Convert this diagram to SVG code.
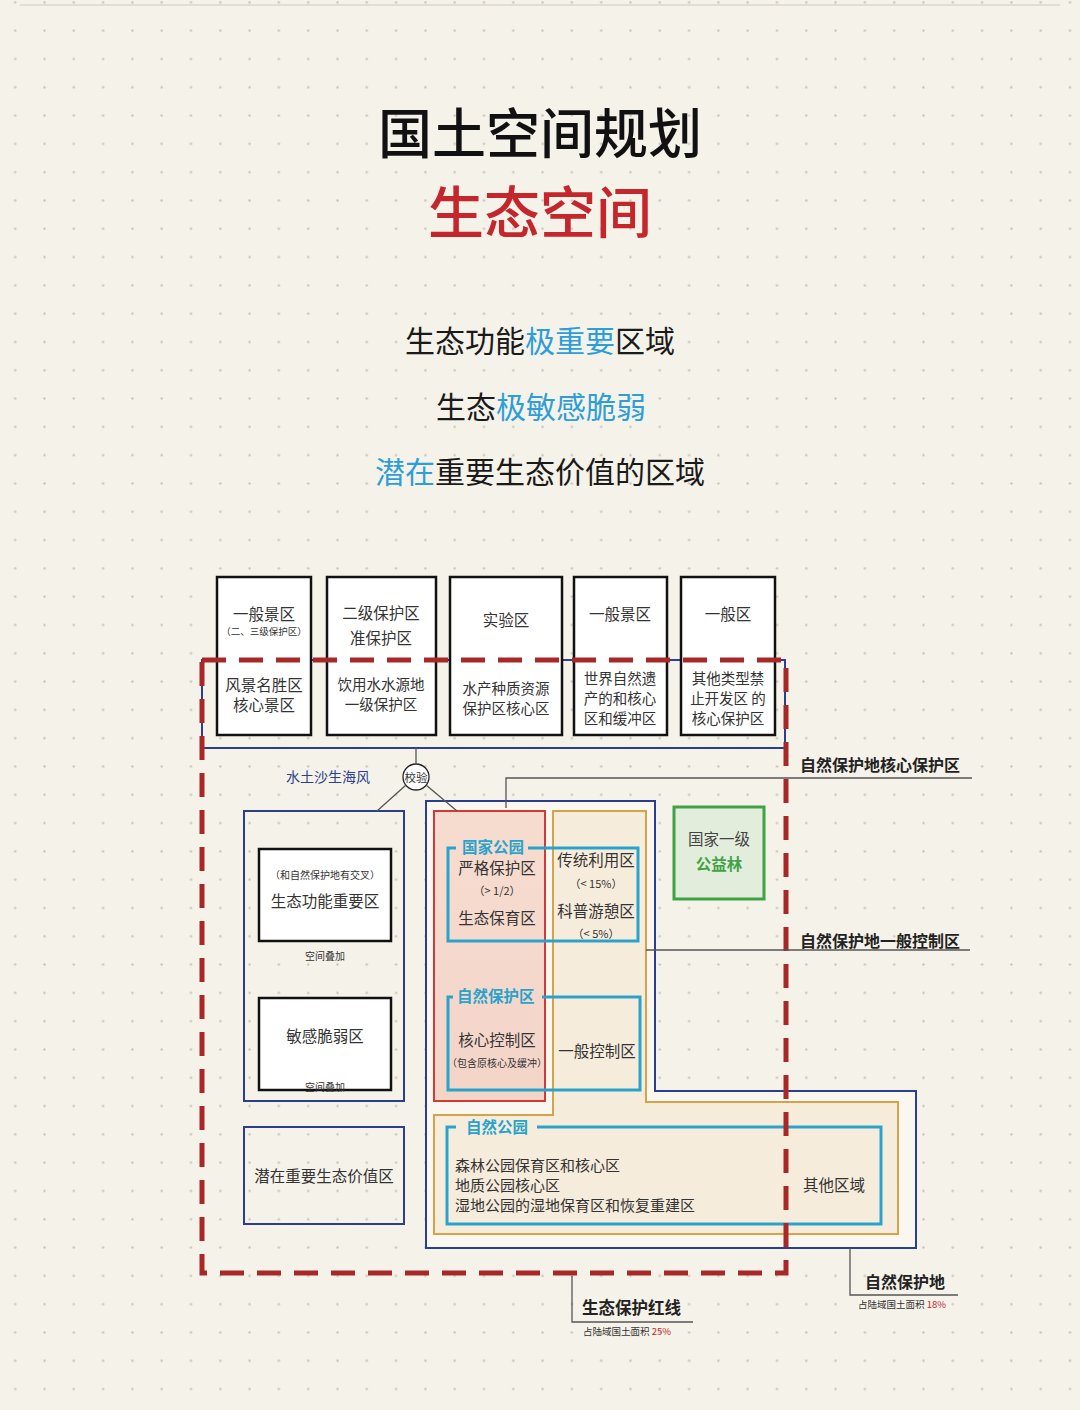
<svg xmlns="http://www.w3.org/2000/svg" width="1080" height="1410" viewBox="0 0 1080 1410">
<defs>
<pattern id="dots" x="13.7" y="0.9" width="29.3" height="28.3" patternUnits="userSpaceOnUse">
<circle cx="1.5" cy="1.5" r="1.2" fill="#c9c3b8"/>
</pattern>
<linearGradient id="pinkG" x1="0" y1="0" x2="0" y2="1">
<stop offset="0" stop-color="#f6dccf"/>
<stop offset="1" stop-color="#f3d5c8"/>
</linearGradient>
<style>
text{font-family:"Noto Sans CJK SC","Noto Sans",sans-serif;fill:#333;}
.t{font-size:15.5px;text-anchor:middle;}
.m{font-size:14.5px;text-anchor:middle;}
.s{font-size:10px;text-anchor:middle;}
.box{fill:#fff;stroke:#111;stroke-width:2.5;}
.db{fill:none;stroke:#2b3f8c;stroke-width:2;}
.cy{fill:none;stroke:#2aa3cc;stroke-width:3;}
.cl{font-size:15.5px;font-weight:700;fill:#2aa3cc;}
.lab{font-size:16px;font-weight:700;fill:#222;}
.ln{fill:none;stroke:#555;stroke-width:1.3;}
.hw{font-size:30px;text-anchor:middle;fill:#1a1a1a;}
.bl{fill:#2d9ed8;}
</style>
</defs>
<rect width="1080" height="1410" fill="#f5f2ea"/>
<rect width="1080" height="1410" fill="url(#dots)"/>
<line x1="20" y1="5" x2="1060" y2="5" stroke="#cfcac0" stroke-width="1"/>

<g id="title">
<text x="540" y="154" style="font-size:54px;font-weight:500;text-anchor:middle;fill:#111;">国土空间规划</text>
<text x="540" y="233" style="font-size:56px;font-weight:500;text-anchor:middle;fill:#c4262b;">生态空间</text>
<text x="540" y="352" class="hw">生态功能<tspan class="bl">极重要</tspan>区域</text>
<text x="541" y="418" class="hw">生态<tspan class="bl">极敏感脆弱</tspan></text>
<text x="540" y="483" class="hw"><tspan class="bl">潜在</tspan>重要生态价值的区域</text>
</g>

<g id="nature-reserve-land">
<path d="M426 801 H655 V1091 H916 V1248 H426 Z" fill="#faf7f1" stroke="#2b3f8c" stroke-width="2"/>
</g>
<g id="general-control">
<path d="M553 811 H646 V1102 H898 V1234 H434 V1115 H553 Z" fill="#f6ecdb" stroke="#d6a24a" stroke-width="2"/>
</g>
<g id="core-protect">
<rect x="434" y="811" width="111" height="290" fill="url(#pinkG)" stroke="#d43a35" stroke-width="2"/>
</g>

<g id="top-row-frame">
<rect x="202" y="660" width="583" height="88" class="db"/>
</g>

<g id="box1">
<rect x="217" y="577" width="94" height="158" class="box"/>
<text x="264" y="620" class="t">一般景区</text>
<text x="264" y="635" class="s" style="font-size:9.5px">（二、三级保护区）</text>
<text x="264" y="691" class="t">风景名胜区</text>
<text x="264" y="711" class="t">核心景区</text>
</g>
<g id="box2">
<rect x="327" y="577" width="109" height="158" class="box"/>
<text x="381" y="619" class="t">二级保护区</text>
<text x="381" y="644" class="t">准保护区</text>
<text x="381" y="690" class="m">饮用水水源地</text>
<text x="381" y="710" class="m">一级保护区</text>
</g>
<g id="box3">
<rect x="450" y="577" width="112" height="158" class="box"/>
<text x="506" y="626" class="t">实验区</text>
<text x="506" y="694" class="m">水产种质资源</text>
<text x="506" y="714" class="m">保护区核心区</text>
</g>
<g id="box4">
<rect x="574" y="577" width="93" height="158" class="box"/>
<text x="620" y="620" class="t">一般景区</text>
<text x="620" y="684" class="m">世界自然遗</text>
<text x="620" y="704" class="m">产的和核心</text>
<text x="620" y="724" class="m">区和缓冲区</text>
</g>
<g id="box5">
<rect x="681" y="577" width="94" height="158" class="box"/>
<text x="728" y="620" class="t">一般区</text>
<text x="728" y="684" class="m">其他类型禁</text>
<text x="728" y="704" class="m">止开发区 的</text>
<text x="728" y="724" class="m">核心保护区</text>
</g>

<g id="check">
<circle cx="416" cy="777" r="13" fill="#fff" stroke="#222" stroke-width="1.3"/>
<text x="416" y="781.5" style="font-size:11.5px;text-anchor:middle;">校验</text>
</g>
<text x="328" y="782" style="font-size:14px;text-anchor:middle;fill:#2b3f8c;">水土沙生海风</text>

<g id="left-group">
<rect x="244" y="811" width="160" height="290" class="db"/>
<rect x="259" y="849" width="132" height="92" class="box"/>
<text x="325" y="879" class="s">（和自然保护地有交叉）</text>
<text x="325" y="907" class="t">生态功能重要区</text>
<text x="325" y="960" class="s">空间叠加</text>
<rect x="259" y="998" width="132" height="92" class="box"/>
<text x="325" y="1042" class="t">敏感脆弱区</text>
<text x="325" y="1091" class="s">空间叠加</text>
</g>
<g id="potential">
<rect x="244" y="1127" width="160" height="97" class="db"/>
<text x="324" y="1182" class="t">潜在重要生态价值区</text>
</g>

<g id="national-park">
<path d="M456 848 H448 V941 H638 V848 H528" class="cy"/>
<text x="462" y="853" class="cl">国家公园</text>
<text x="497" y="874" class="t">严格保护区</text>
<text x="497" y="895" class="s" style="font-size:11px">（&gt; 1/2）</text>
<text x="497" y="924" class="t">生态保育区</text>
<text x="596" y="866" class="t">传统利用区</text>
<text x="596" y="888" class="s" style="font-size:11px">（&lt; 15%）</text>
<text x="596" y="917" class="t">科普游憩区</text>
<text x="596" y="938" class="s" style="font-size:11px">（&lt; 5%）</text>
</g>
<g id="nature-reserve">
<path d="M453 997 H448 V1090 H640 V997 H542" class="cy"/>
<text x="457" y="1002" class="cl">自然保护区</text>
<text x="497" y="1046" class="t">核心控制区</text>
<text x="497" y="1067" class="s">（包含原核心及缓冲）</text>
<text x="597" y="1057" class="t">一般控制区</text>
</g>
<g id="nature-park">
<path d="M456 1127 H447 V1224 H881 V1127 H537" class="cy"/>
<text x="466" y="1133" class="cl">自然公园</text>
<text x="455" y="1171" style="font-size:15px;">森林公园保育区和核心区</text>
<text x="455" y="1191" style="font-size:15px;">地质公园核心区</text>
<text x="455" y="1211" style="font-size:15px;">湿地公园的湿地保育区和恢复重建区</text>
<text x="834" y="1191" class="t">其他区域</text>
</g>
<g id="forest">
<rect x="674" y="807" width="90" height="92" fill="#e3eddb" stroke="#3fa345" stroke-width="3"/>
<text x="719" y="845" class="t" style="fill:#444">国家一级</text>
<text x="719" y="870" class="t" style="fill:#3fa345;font-weight:700">公益林</text>
</g>

<g id="red-line">
<rect x="202" y="660" width="584" height="613" fill="none" stroke="#a82828" stroke-width="5" stroke-dasharray="24 13"/>
</g>

<g id="connectors">
<line x1="416" y1="748" x2="416" y2="764" class="ln"/>
<line x1="406" y1="785" x2="377" y2="811" class="ln"/>
<line x1="426" y1="785" x2="457" y2="811" class="ln"/>
<polyline points="506,808 506,778 972,778" class="ln"/>
<line x1="646" y1="950" x2="970" y2="950" class="ln"/>
<polyline points="572,1276 572,1322 693,1322" class="ln"/>
<polyline points="850,1248 850,1295 958,1295" class="ln"/>
</g>

<g id="labels">
<text x="800" y="771" class="lab">自然保护地核心保护区</text>
<text x="800" y="947" class="lab">自然保护地一般控制区</text>
<text x="582" y="1314" class="lab" style="font-size:16.5px">生态保护红线</text>
<text x="583" y="1335" style="font-size:9.5px;">占陆域国土面积 <tspan style="fill:#c4262b">25%</tspan></text>
<text x="865" y="1288" class="lab">自然保护地</text>
<text x="858" y="1308" style="font-size:9.5px;">占陆域国土面积 <tspan style="fill:#c4262b">18%</tspan></text>
</g>
</svg>
